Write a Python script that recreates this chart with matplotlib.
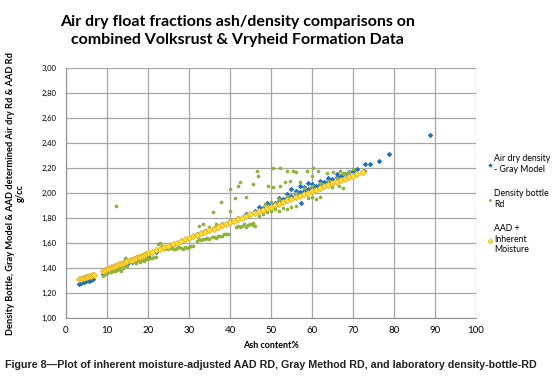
import matplotlib
matplotlib.use("Agg")
import matplotlib.pyplot as plt
from matplotlib.ticker import FuncFormatter

# Air dry density - Gray Model (blue)
gray_ash = [3.2, 3.6, 4.0, 4.5, 5.0, 5.5, 6.0, 6.5, 9.0, 9.5, 10, 11, 12, 13, 14, 15, 16,
            17, 18, 19, 20, 22, 24, 26, 28, 30, 32, 34, 36, 38, 40, 42, 44, 46, 47, 48, 49,
            50, 51, 52, 52, 53, 54, 54, 55, 55, 56, 56, 57, 57, 57.3, 58, 58, 59, 59, 60, 60,
            61, 62, 62, 63, 64, 64, 65, 66, 66, 67, 68, 69, 70, 71, 72.8, 72.9, 74.2, 76.4,
            78.8, 88.8]
gray_rd = [1.275, 1.28, 1.285, 1.29, 1.295, 1.30, 1.305, 1.31, 1.355, 1.36, 1.37, 1.38, 1.39,
           1.405, 1.42, 1.43, 1.445, 1.46, 1.47, 1.485, 1.50, 1.53, 1.56, 1.585, 1.615, 1.64,
           1.67, 1.695, 1.72, 1.75, 1.775, 1.80, 1.83, 1.855, 1.89, 1.88, 1.92, 1.905, 1.92,
           1.935, 1.96, 1.95, 1.96, 1.99, 1.975, 2.03, 1.99, 2.02, 2.005, 2.06, 1.92, 2.02,
           2.05, 2.03, 2.08, 2.045, 2.07, 2.06, 2.07, 2.10, 2.085, 2.10, 2.12, 2.11, 2.125,
           2.15, 2.14, 2.15, 2.165, 2.18, 2.19, 2.18, 2.23, 2.235, 2.26, 2.31, 2.465]

# Density bottle Rd (green)
bottle_ash = [9.0, 9.5, 10, 10.5, 11, 11.5, 12, 12.5, 13, 13.5, 14, 10, 12, 13, 14, 15, 14.3,
              12.2, 15.5, 16, 16.5, 17, 17.5, 18, 18.5, 19, 19.5, 20, 20.5, 21, 21.5, 22, 17,
              18, 19, 22.5, 23, 23.5, 24, 24.5, 25, 25.5, 26, 26.5, 27, 27.5, 28, 28.5, 29,
              29.5, 30, 30.5, 31, 24, 32, 32.5, 33, 33.5, 34, 34.5, 35, 35.5, 36, 36.5, 37,
              37.5, 38, 38.5, 39, 39.5, 32.5, 33.5, 35, 36.5, 32.6, 41.5, 42, 42.5, 43, 43.5,
              44, 44.5, 45, 45.5, 46, 45.5, 37.9, 35.9, 40.1, 41.2, 42, 42.4, 40, 44, 45.6,
              46.5, 46.9, 49.3, 50.5, 52.2, 53.8, 56.2, 58.7, 60.3, 61.5, 55.4, 50.5, 52.2,
              53.4, 54.6, 57.1, 59.9, 63.6, 65.2, 66.8, 67.6, 49, 50, 51, 52, 53, 54, 55, 56,
              48, 47, 59, 60, 61, 62, 65, 66.5, 67.5, 48.5, 50, 52, 54, 56, 58, 60, 62, 64,
              66, 68, 69, 70]
bottle_rd = [1.34, 1.35, 1.36, 1.37, 1.365, 1.38, 1.375, 1.385, 1.39, 1.38, 1.40, 1.38, 1.40,
             1.42, 1.41, 1.42, 1.48, 1.90, 1.45, 1.46, 1.45, 1.46, 1.47, 1.46, 1.465, 1.47,
             1.475, 1.47, 1.48, 1.48, 1.485, 1.49, 1.44, 1.45, 1.455, 1.59, 1.60, 1.58, 1.55,
             1.56, 1.555, 1.56, 1.55, 1.555, 1.56, 1.565, 1.56, 1.555, 1.57, 1.56, 1.57,
             1.575, 1.58, 1.57, 1.62, 1.63, 1.625, 1.63, 1.635, 1.64, 1.635, 1.645, 1.65,
             1.64, 1.655, 1.66, 1.66, 1.67, 1.675, 1.67, 1.74, 1.75, 1.73, 1.75, 1.68, 1.73,
             1.74, 1.725, 1.74, 1.75, 1.73, 1.745, 1.75, 1.76, 1.74, 1.745, 1.925, 1.85, 1.86,
             1.96, 2.06, 2.09, 2.03, 1.97, 2.07, 2.18, 2.14, 2.06, 2.20, 2.20, 2.18, 2.17,
             2.18, 2.20, 2.18, 2.18, 2.05, 2.06, 2.09, 2.10, 2.09, 2.14, 2.16, 2.17, 2.18,
             2.16, 1.85, 1.86, 1.87, 1.86, 1.88, 1.87, 1.89, 1.90, 1.83, 1.82, 1.96, 1.97,
             1.95, 1.97, 2.05, 2.06, 2.04, 1.91, 1.93, 1.95, 1.98, 2.00, 2.04, 2.06, 2.08,
             2.10, 2.12, 2.15, 2.17, 2.19]

# AAD + Inherent Moisture (yellow)
aad_ash = [3.2, 3.6, 4.0, 4.4, 4.8, 5.2, 5.6, 6.0, 6.4, 6.8, 9.0, 9.5, 10, 10.5, 11, 11.5,
           12, 12.5, 13, 13.5, 14, 14.5, 15, 15.5, 16, 16.5, 17, 17.5, 18, 18.5, 19, 19.5,
           20, 21, 22, 23, 24, 25, 26, 27, 28, 29, 30, 31, 32, 33, 34, 35, 36, 37, 38, 39,
           40, 41, 42, 43, 44, 45, 46, 47, 48, 49, 50, 51, 52, 53, 54, 55, 56, 57, 58, 59,
           60, 61, 62, 63, 64, 65, 66, 67, 68, 69, 70, 71, 72.5]
aad_rd = [1.31, 1.315, 1.318, 1.322, 1.326, 1.329, 1.333, 1.337, 1.341, 1.345, 1.38, 1.386,
          1.392, 1.399, 1.405, 1.411, 1.417, 1.424, 1.43, 1.436, 1.442, 1.449, 1.455, 1.461,
          1.467, 1.473, 1.48, 1.486, 1.492, 1.498, 1.505, 1.511, 1.517, 1.529, 1.542, 1.554,
          1.567, 1.579, 1.592, 1.604, 1.617, 1.629, 1.642, 1.654, 1.667, 1.679, 1.691, 1.704,
          1.716, 1.729, 1.741, 1.754, 1.766, 1.779, 1.791, 1.804, 1.816, 1.829, 1.841, 1.853,
          1.866, 1.878, 1.891, 1.903, 1.916, 1.928, 1.941, 1.953, 1.966, 1.978, 1.99, 2.003,
          2.015, 2.028, 2.04, 2.053, 2.065, 2.078, 2.09, 2.103, 2.115, 2.127, 2.14, 2.152,
          2.171]

plt.rcParams["font.family"] = ["Lato", "DejaVu Sans"]

fig = plt.figure(figsize=(5.56, 3.85), dpi=100)
ax = fig.add_axes([0.1187, 0.174, 0.7373, 0.649])

ax.scatter(gray_ash, gray_rd, s=8, marker="D", color="#1F6FC0", linewidths=0,
           label="Air dry density\n- Gray Model", zorder=3)
ax.scatter(bottle_ash, bottle_rd, s=7, marker="o", color="#8DB33A", linewidths=0,
           label="Density bottle\nRd", zorder=3)
ax.scatter(aad_ash, aad_rd, s=11, marker="D", color="#FFE033", edgecolors="#E0A020",
           linewidths=0.4, label="AAD +\nInherent\nMoisture", zorder=4)

ax.set_xlim(0, 100)
ax.set_ylim(1.0, 3.0)
ax.set_xticks(range(0, 101, 10))
ax.set_yticks([1.0 + 0.2 * i for i in range(11)])
ax.yaxis.set_major_formatter(FuncFormatter(lambda v, p: f"{v:.2f}".replace(".", ",")))
ax.grid(True, color="#A6A6A6", linewidth=0.9)
ax.set_axisbelow(True)
for side in ["top", "right"]:
    ax.spines[side].set_visible(False)
for side in ["left", "bottom"]:
    ax.spines[side].set_color("#909090")
ax.tick_params(axis="y", labelsize=5.5, length=0, pad=7)
ax.tick_params(axis="x", labelsize=7, length=0, pad=6)

ax.set_xlabel("Ash content%", fontsize=6.5, fontweight="bold", labelpad=4)
ax.set_ylabel("Density Bottle, Gray Model & AAD determined Air dry Rd & AAD Rd\ng/cc",
              fontsize=6.7, fontweight="bold", labelpad=12, linespacing=1.1)

fig.text(0.427, 0.96, "Air dry float fractions ash/density comparisons on\ncombined Volksrust & Vryheid Formation Data",
         ha="center", va="top", fontsize=11.5, fontweight="bold", linespacing=1.3)

fig.legend(loc="upper left", bbox_to_anchor=(0.862, 0.62), frameon=False, fontsize=6.3,
           labelspacing=1.8, handletextpad=0.2, handlelength=0.6, markerscale=0.8)

fig.text(0.009, 0.045, "Figure 8\u2014Plot of inherent moisture-adjusted AAD RD, Gray Method RD, and laboratory density-bottle-RD",
         fontsize=7.7, fontweight="bold", family="Liberation Sans", color="#222222")

fig.savefig("out.png", dpi=100)
